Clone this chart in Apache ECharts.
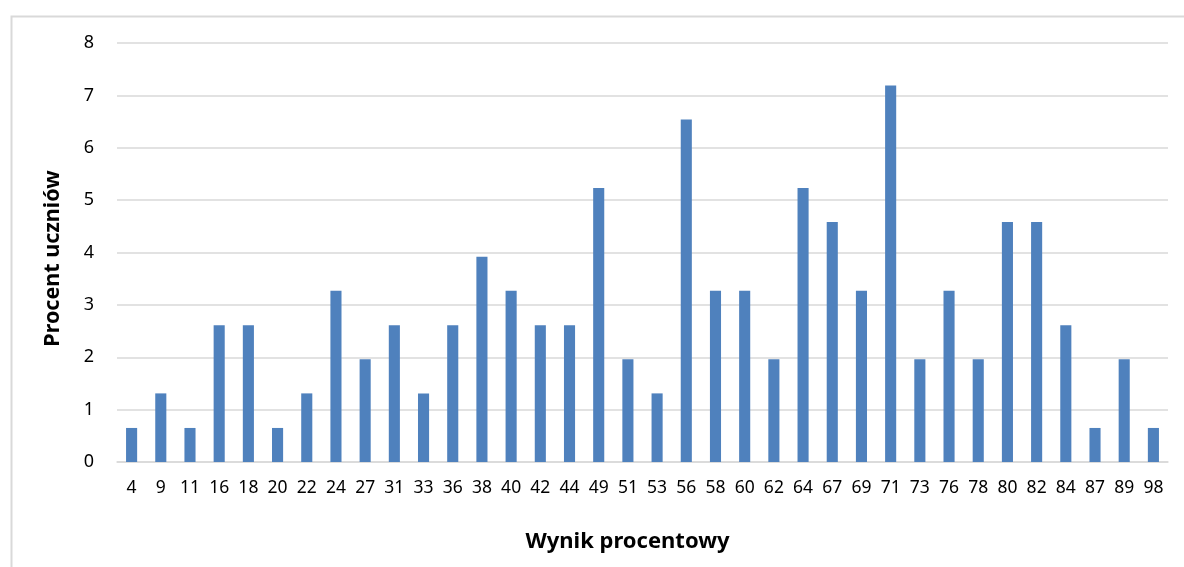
<!DOCTYPE html>
<html>
<head>
<meta charset="utf-8">
<script src="https://cdn.jsdelivr.net/npm/echarts@6/dist/echarts.min.js"></script>
<style>
  html, body { margin: 0; padding: 0; background: #fff; }
  #chart { width: 1184px; height: 567px; }
</style>
</head>
<body>
<div id="chart"></div>
<script>
const scores = ['4', '9', '11', '16', '18', '20', '22', '24', '27', '31', '33', '36', '38', '40', '42', '44', '49', '51',
  '53', '56', '58', '60', '62', '64', '67', '69', '71', '73', '76', '78', '80', '82', '84', '87', '89', '98']
const percents = [0.65, 1.31, 0.65, 2.61, 2.61, 0.65, 1.31, 3.27, 1.96, 2.61, 1.31, 2.61, 3.92, 3.27, 2.61, 2.61, 5.23, 1.96,
  1.31, 6.54, 3.27, 3.27, 1.96, 5.23, 4.58, 3.27, 7.19, 1.96, 3.27, 1.96, 4.58, 4.58, 2.61, 0.65, 1.96, 0.65]
const yTicks = [0, 1, 2, 3, 4, 5, 6, 7, 8]

const chart = echarts.init(document.getElementById('chart'))
const font = 'Noto Sans, Open Sans, sans-serif'

chart.setOption({
  animation: false,
  graphic: [{
    type: 'rect',
    left: 9,
    top: 14,
    shape: { width: 1300, height: 700 },
    style: { fill: 'none', stroke: '#d9d9d9', lineWidth: 2 },
    silent: true
  }],
  grid: { left: 117, right: 16, top: 43, bottom: 105 },
  xAxis: {
    type: 'category',
    data: scores,
    name: 'Wynik procentowy',
    nameLocation: 'middle',
    nameGap: 69,
    nameTextStyle: { fontFamily: font, fontWeight: 'bold', fontSize: 22, color: '#000', padding: [0, 30, 0, 0] },
    axisLine: { lineStyle: { color: '#d9d9d9', width: 1.5 } },
    axisTick: { show: false },
    axisLabel: { fontFamily: font, fontSize: 17.5, color: '#000', margin: 17, interval: 0 }
  },
  yAxis: {
    type: 'value',
    min: yTicks[0],
    max: yTicks[yTicks.length - 1],
    interval: 1,
    name: 'Procent uczniów',
    nameLocation: 'middle',
    nameGap: 53,
    nameTextStyle: { fontFamily: font, fontWeight: 'bold', fontSize: 21.5, color: '#000', padding: [0, 12, 0, 0] },
    axisLine: { show: false },
    axisTick: { show: false },
    axisLabel: { fontFamily: font, fontSize: 18, color: '#000', margin: 23 },
    splitLine: { lineStyle: { color: '#d9d9d9', width: 1.5 } }
  },
  series: [{
    type: 'bar',
    data: percents,
    barWidth: '38%',
    itemStyle: { color: '#4f81bd' }
  }]
})
</script>
</body>
</html>
